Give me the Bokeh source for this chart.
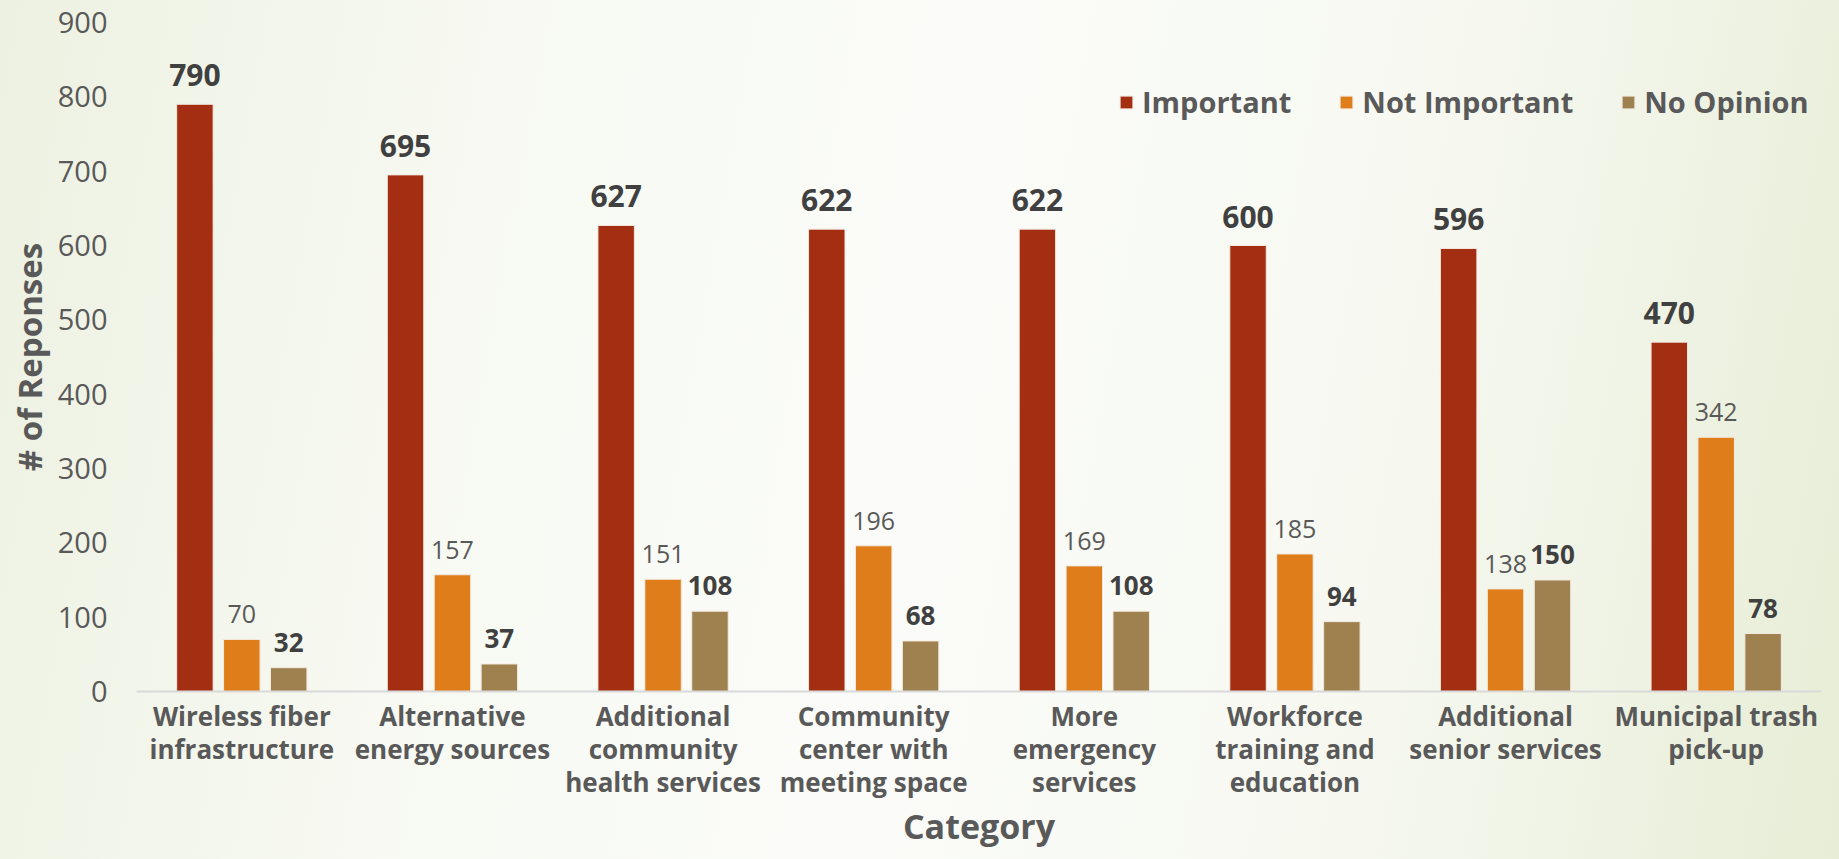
from bokeh.plotting import figure
from bokeh.models import ColumnDataSource, FactorRange, Legend, LegendItem, FixedTicker
from bokeh.transform import dodge
from bokeh.core.properties import value
from bokeh.embed import file_html
from bokeh.resources import INLINE

# ---- data ----
categories = [
    "Wireless fiber\ninfrastructure",
    "Alternative\nenergy sources",
    "Additional\ncommunity\nhealth services",
    "Community\ncenter with\nmeeting space",
    "More\nemergency\nservices",
    "Workforce\ntraining and\neducation",
    "Additional\nsenior services",
    "Municipal trash\npick-up",
]
important = [790, 695, 627, 622, 622, 600, 596, 470]
not_important = [70, 157, 151, 196, 169, 185, 138, 342]
no_opinion = [32, 37, 108, 68, 108, 94, 150, 78]
series_names = ["Important", "Not Important", "No Opinion"]
y_ticks = [0, 100, 200, 300, 400, 500, 600, 700, 800, 900]
x_title = "Category"
y_title = "# of Reponses"

# ---- style ----
FONT = "Open Sans"
colors = ["#A32E12", "#DE7D19", "#9F8150"]
offsets = [-0.2227, 0.0, 0.2227]
bar_w = 0.173
grey = "#595959"

src = ColumnDataSource(dict(
    cat=categories,
    imp=important, notimp=not_important, noop=no_opinion,
    imp_lbl=[str(v) for v in important],
    notimp_lbl=[str(v) for v in not_important],
    noop_lbl=[str(v) for v in no_opinion],
))

p = figure(
    x_range=FactorRange(factors=categories), y_range=(0, 900),
    width=1823, height=851, output_backend="svg", toolbar_location=None,
    min_border_left=136, min_border_right=2, min_border_top=22, min_border_bottom=150,
)
p.background_fill_alpha = 0
p.border_fill_alpha = 0
p.outline_line_color = None
p.xgrid.visible = False
p.ygrid.visible = False

cols = ["imp", "notimp", "noop"]
renderers = []
for col, c, off in zip(cols, colors, offsets):
    r = p.vbar(x=dodge("cat", off, range=p.x_range), top=col, width=bar_w, source=src,
               fill_color=c, line_color="#f3e9e0", line_width=1)
    renderers.append(r)

label_styles = [
    dict(size="30px", style="bold", color="#404040", off=-18),
    dict(size="25px", style="normal", color=grey, off=-16),
    dict(size="26px", style="bold", color="#404040", off=-16),
]
for col, off, st in zip(cols, offsets, label_styles):
    p.text(x=dodge("cat", off, range=p.x_range), y=col, text=col + "_lbl", source=src,
           text_align="center", text_baseline="bottom", y_offset=st["off"],
           text_font=value(FONT), text_font_size=st["size"], text_font_style=st["style"],
           text_color=st["color"])

# axes
p.yaxis.ticker = FixedTicker(ticks=y_ticks)
p.yaxis.axis_line_color = None
p.yaxis.major_tick_line_color = None
p.yaxis.minor_tick_line_color = None
p.yaxis.major_label_text_font = FONT
p.yaxis.major_label_text_font_size = "29px"
p.yaxis.major_label_text_color = grey
p.yaxis.major_label_standoff = 23
p.yaxis.axis_label = y_title
p.yaxis.axis_label_text_font = FONT
p.yaxis.axis_label_text_font_size = "33px"
p.yaxis.axis_label_text_font_style = "bold"
p.yaxis.axis_label_text_color = grey
p.yaxis.axis_label_standoff = 3

p.xaxis.axis_line_color = "#d9d9d9"
p.xaxis.axis_line_width = 2
p.xaxis.major_tick_line_color = None
p.xaxis.minor_tick_line_color = None
p.xaxis.major_label_text_font = FONT
p.xaxis.major_label_text_font_size = "26px"
p.xaxis.major_label_text_font_style = "bold"
p.xaxis.major_label_text_color = grey
p.xaxis.major_label_text_line_height = 0.92
p.xaxis.major_label_standoff = 0
p.xaxis.axis_label = x_title
p.xaxis.axis_label_text_font = FONT
p.xaxis.axis_label_text_font_size = "34px"
p.xaxis.axis_label_text_font_style = "bold"
p.xaxis.axis_label_text_color = grey
p.xaxis.axis_label_text_line_height = 0.9
p.xaxis.axis_label_standoff = 0

legend = Legend(
    items=[LegendItem(label=n, renderers=[r]) for n, r in zip(series_names, renderers)],
    location=(982, 570), orientation="horizontal",
    label_text_font=FONT, label_text_font_size="29px", label_text_font_style="bold",
    label_text_color=grey, glyph_width=16, glyph_height=16, label_standoff=8,
    spacing=47, padding=0, margin=0, border_line_color=None, background_fill_alpha=0,
)
p.add_layout(legend)

template = """
{% block postamble %}
<style>
html { min-height: 100%; overflow: hidden; background: linear-gradient(100deg, #edf1e1 0%, #f7f9f2 25%, #fbfcf9 50%, #f6f8f0 75%, #e7edd6 100%); }
body { margin-bottom: 0; overflow: hidden; }
</style>
{% endblock %}
"""
open("out.html", "w").write(file_html(p, INLINE, title="Chart", template=template))
